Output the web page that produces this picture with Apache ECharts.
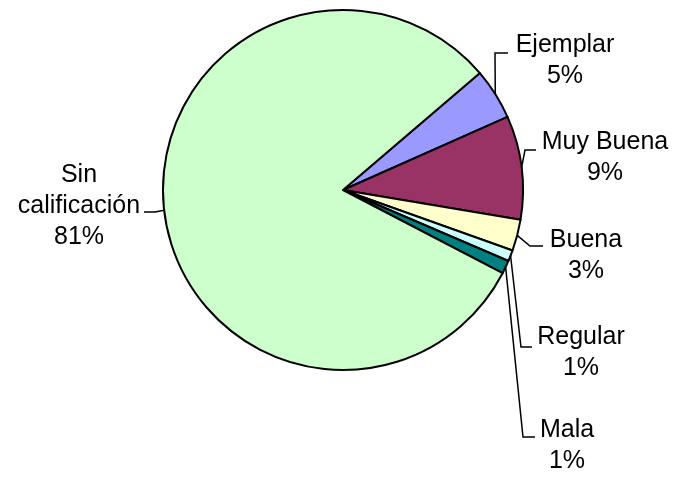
<!DOCTYPE html>
<html>
<head>
<meta charset="utf-8">
<script src="https://cdn.jsdelivr.net/npm/echarts@6/dist/echarts.min.js"></script>
<style>
  html, body { margin: 0; padding: 0; background: #fff; }
  #chart-view { width: 684px; height: 483px; }
</style>
</head>
<body>
<div id="chart-view"></div>
<script>
// categorías y valores (en %), en el orden de las agujas del reloj
var categories = ['Ejemplar', 'Muy Buena', 'Buena', 'Regular', 'Mala', 'Sin calificación'];
var values = [4.6, 9.3, 2.8, 1.0, 1.2, 81.1];
var colors = ['#9999FF', '#993366', '#FFFFCC', '#CCFFFF', '#008080', '#CCFFCC'];
var labelNames = ['Ejemplar', 'Muy Buena', 'Buena', 'Regular', 'Mala', 'Sin\ncalificación'];

// donde va cada etiqueta: centro del texto y codo de la linea guia
var labelSpots = [
    { x: 565, y: 61, elbow: [495, 53], end: [508, 53] },
    { x: 605, y: 158, elbow: [525, 150], end: [536, 150] },
    { x: 586, y: 256, elbow: [530, 246], end: [543, 246] },
    { x: 581, y: 353, elbow: [521, 347], end: [532, 347] },
    { x: 567, y: 446, elbow: [523, 437], end: [535, 437] },
    { x: 79, y: 206, elbow: [155, 212], end: [144, 212] }
];

var trendChart = echarts.init(document.getElementById('chart-view'));

var pieData = [];
for (var i = 0; i < categories.length; i++) {
    pieData.push({
        name: categories[i],
        value: values[i],
        itemStyle: { color: colors[i] }
    });
}

trendChart.setOption({
    backgroundColor: '#ffffff',
    animation: false,
    series: [{
        type: 'pie',
        center: [343, 190],
        radius: 180,
        startAngle: 40.5,
        clockwise: true,
        avoidLabelOverlap: false,
        percentPrecision: 0,
        data: pieData,
        itemStyle: { borderColor: '#000', borderWidth: 2 },
        emphasis: { disabled: true },
        label: {
            show: true,
            position: 'outside',
            fontFamily: 'Liberation Sans, Arial, sans-serif',
            fontSize: 25,
            lineHeight: 31,
            color: '#000',
            align: 'center',
            formatter: function (p) {
                return labelNames[p.dataIndex] + '\n' + p.percent + '%';
            }
        },
        labelLine: {
            show: true,
            length: 10,
            length2: 10,
            smooth: false,
            lineStyle: { color: '#000', width: 1.5 }
        },
        labelLayout: function (params) {
            var s = labelSpots[params.dataIndex];
            var start = params.labelLinePoints ? params.labelLinePoints[0] : s.elbow;
            return {
                x: s.x,
                y: s.y,
                align: 'center',
                verticalAlign: 'middle',
                labelLinePoints: [start, s.elbow, s.end]
            };
        }
    }]
});
</script>
</body>
</html>
